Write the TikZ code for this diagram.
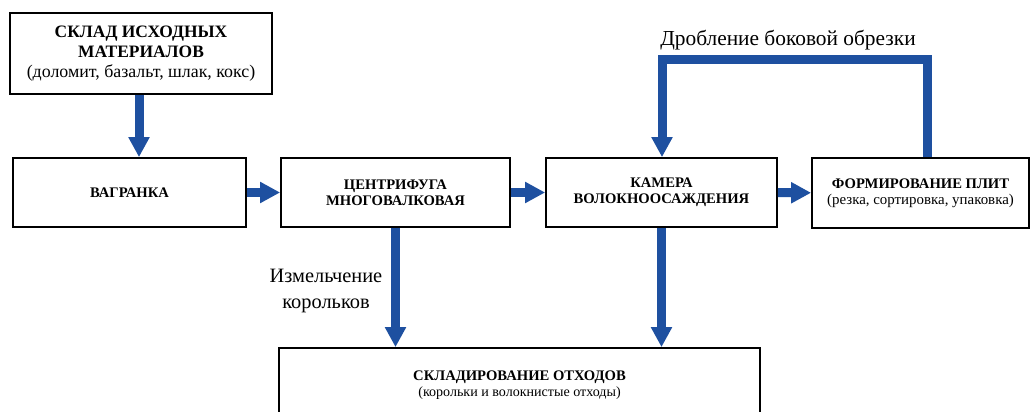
\documentclass[tikz,border=0pt]{standalone}
\usepackage{fontspec}
\setmainfont{Liberation Serif}
\usetikzlibrary{arrows.meta}
\definecolor{flowblue}{RGB}{30,80,160}
\tikzstyle{block} = [draw, line width=1.2pt, align=center, inner sep=2pt,
    font=\fontsize{10.4}{11.2}\selectfont\bfseries]
\tikzstyle{flow} = [flowblue, line width=0.225cm, -{Triangle[width=0.5cm,length=0.5cm]}]
\tikzstyle{note} = [align=center, inner sep=1pt, font=\fontsize{14.5}{18.5}\selectfont]

\begin{document}
\begin{tikzpicture}[x=0.025cm,y=-0.025cm]
    \clip (0,0) rectangle (1031,412);

    \node[block, minimum width=6.55cm, minimum height=2.025cm,
          font=\fontsize{12.4}{14.2}\selectfont] (sklad) at (141,53.5)
        {\textbf{СКЛАД ИСХОДНЫХ}\\\textbf{МАТЕРИАЛОВ}\\{\fontsize{12.7}{14.2}\selectfont(доломит, базальт, шлак, кокс)}};
    \node[block, minimum width=5.825cm, minimum height=1.725cm] (vagr) at (129.5,192.5) {ВАГРАНКА};
    \node[block, minimum width=5.725cm, minimum height=1.725cm] (centr) at (395.5,192.5)
        {ЦЕНТРИФУГА\\МНОГОВАЛКОВАЯ};
    \node[block, minimum width=5.775cm, minimum height=1.725cm] (kam) at (661.5,192.5)
        {КАМЕРА\\ВОЛОКНООСАЖДЕНИЯ};
    \node[block, minimum width=5.425cm, minimum height=1.75cm] (form) at (920.5,193)
        {ФОРМИРОВАНИЕ ПЛИТ\\{\mdseries\fontsize{10.6}{11.4}\selectfont(резка, сортировка, упаковка)}};
    \node[block, minimum width=12.025cm, minimum height=1.85cm] (otkh) at (519.5,385)
        {СКЛАДИРОВАНИЕ ОТХОДОВ\\{\mdseries\fontsize{10}{11.2}\selectfont(корольки и волокнистые отходы)}};

    % main line
    \draw[flow] (sklad.south -| 139,0) -- (vagr.north -| 139,0);
    \draw[flow] (vagr) -- (centr);
    \draw[flow] (centr) -- (kam);
    \draw[flow] (kam) -- (form);

    % waste
    \draw[flow] (centr.south) -- (centr.south |- otkh.north);
    \draw[flow] (kam.south) -- (kam.south |- otkh.north);
    \node[note] (izm) at (326,291) {Измельчение\\корольков};

    % side trim back to the chamber
    \coordinate (loopR) at (927,60);
    \coordinate (loopL) at (662,60);
    \draw[flow] (form.north -| loopR) -- (loopR) -- (loopL) -- (kam.north -| loopL);
    \node[note, font=\fontsize{15.2}{18.5}\selectfont] (drob) at (788,40) {Дробление боковой обрезки};

\end{tikzpicture}
\end{document}
